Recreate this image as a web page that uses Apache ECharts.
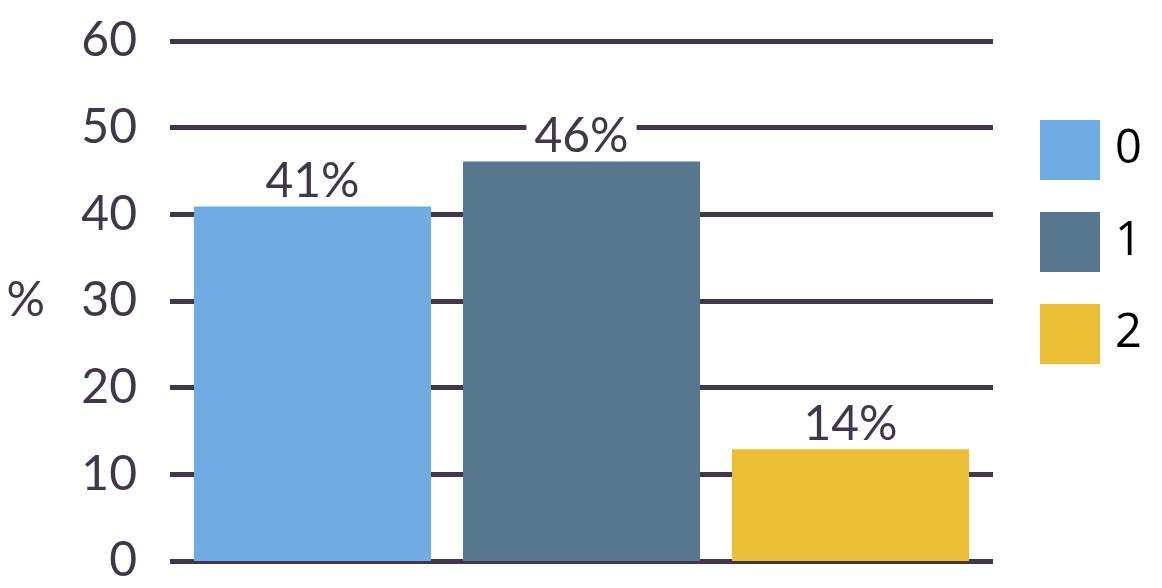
<!DOCTYPE html>
<html>
<head>
<meta charset="utf-8">
<script src="https://cdn.jsdelivr.net/npm/echarts@6/dist/echarts.min.js"></script>
<style>html,body{margin:0;padding:0;background:#fff}#c{width:1162px;height:588px}</style>
</head>
<body>
<div id="c"></div>
<script>
var seriesNames = ["0", "1", "2"];
var seriesValues = [40.9, 46.1, 12.9];
var valueLabels = ["41%", "46%", "14%"];
var colors = ["#6FACE1", "#57778F", "#EABF35"];
var yTicks = [0, 10, 20, 30, 40, 50, 60];

var ink = "#41364A";
var chart = echarts.init(document.getElementById('c'));
var series = seriesNames.map(function (n, i) {
  return {
    name: n,
    type: 'bar',
    data: [seriesValues[i]],
    barWidth: 237,
    barGap: '13.5%',
    itemStyle: { color: colors[i] },
    label: {
      show: true,
      position: 'top',
      distance: 5,
      formatter: function () { return valueLabels[i]; },
      color: ink,
      fontFamily: 'Lato',
      fontSize: 48,
      backgroundColor: '#fff',
      padding: [0, 8, 0, 8],
      lineHeight: 40
    }
  };
});
chart.setOption({
  animation: false,
  grid: { left: 170, right: 169, top: 41, bottom: 27, containLabel: false, outerBoundsMode: 'none' },
  legend: {
    orient: 'vertical',
    left: 1040,
    top: 120,
    padding: 0,
    itemWidth: 60,
    itemHeight: 60,
    itemGap: 32,
    icon: 'rect',
    data: seriesNames,
    textStyle: { color: '#000', fontFamily: 'Open Sans', fontSize: 47, padding: [0, 0, 0, 10] }
  },
  xAxis: {
    type: 'category',
    data: [''],
    axisLine: { show: false },
    axisTick: { show: false },
    axisLabel: { show: false }
  },
  yAxis: {
    type: 'value',
    min: yTicks[0],
    max: yTicks[yTicks.length - 1],
    interval: 10,
    name: '%',
    nameLocation: 'middle',
    nameRotate: 0,
    nameGap: 125,
    nameTextStyle: { color: ink, fontFamily: 'Lato', fontSize: 48 },
    axisLine: { show: false },
    axisTick: { show: false },
    axisLabel: { color: ink, fontFamily: 'Lato', fontSize: 48, margin: 33 },
    splitLine: { lineStyle: { color: ink, width: 5 } }
  },
  series: series
});
</script>
</body>
</html>
